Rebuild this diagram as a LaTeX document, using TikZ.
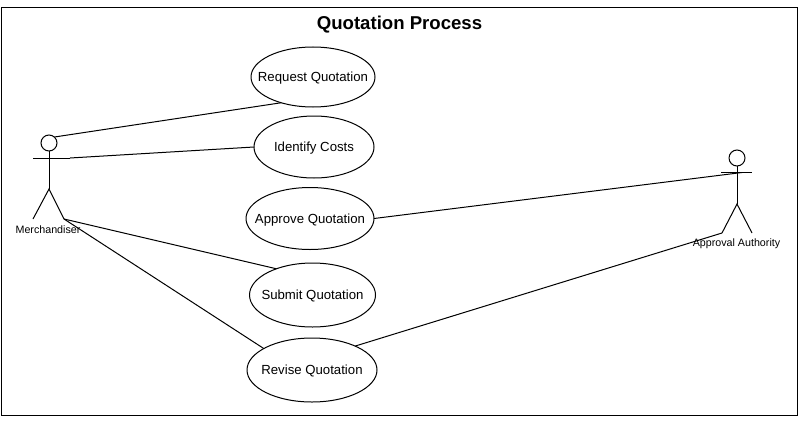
\documentclass[tikz,border=0pt]{standalone}
\usepackage{fontspec}
\setmainfont{Liberation Sans}
\usetikzlibrary{shapes.geometric}
\newcommand{\uctext}[1]{\makebox[0pt]{\raisebox{-4.6pt}[0pt][0pt]{#1}}}
\tikzset{
  usecase/.style={draw=black,ellipse,inner sep=0pt,outer sep=0pt,line width=1pt,fill=white,font=\fontsize{13.2}{15}\selectfont},
  link/.style={draw=black,line width=1pt},
  stick/.style={draw=black,line width=1pt},
  actorlabel/.style={inner sep=0pt,font=\fontsize{10.7}{12}\selectfont},
  headcircle/.style={draw=black,circle,line width=1pt,minimum size=16pt,inner sep=0pt,outer sep=0pt}
}
\begin{document}
\begin{tikzpicture}[x=1pt,y=-1pt]
\useasboundingbox (0,0) rectangle (799,420);
\fill[white] (0,0) rectangle (799,420);
\draw[line width=1pt] (1.5,7.5) rectangle (797,415);
\node[inner sep=0pt,font=\bfseries\fontsize{18.6}{20}\selectfont] (title) at (399.5,24.5) {Quotation Process};

\node[usecase,minimum width=124pt,minimum height=60pt] (req) at (313,77) {\uctext{Request Quotation}};
\node[usecase,minimum width=120pt,minimum height=62pt] (cost) at (314,147) {\uctext{Identify Costs}};
\node[usecase,minimum width=128pt,minimum height=62pt] (appr) at (310,218.5) {\uctext{Approve Quotation}};
\node[usecase,minimum width=126pt,minimum height=64pt] (sub) at (312.5,295) {\uctext{Submit Quotation}};
\node[usecase,minimum width=130pt,minimum height=64pt] (rev) at (312,370) {\uctext{Revise Quotation}};

% Merchandiser
\node[headcircle] (mhead) at (49,143) {};
\coordinate (mhip) at (49,189);
\coordinate (marmL) at (33,158);
\coordinate (marmR) at (70,158);
\coordinate (mlegL) at (33,219);
\coordinate (mlegR) at (64,219);
\coordinate (mneck) at (54.5,137);
\draw[stick] (mhead.south) -- (mhip);
\draw[stick] (marmL) -- (marmR);
\draw[stick] (mlegL) -- (mhip) -- (mlegR);
\node[actorlabel] (mlabel) at (48,229.5) {Merchandiser};

% Approval Authority
\node[headcircle] (ahead) at (737,158) {};
\coordinate (ahip) at (737,204);
\coordinate (aarmL) at (721,172.5);
\coordinate (aarmR) at (752,172.5);
\coordinate (alegL) at (722,233);
\coordinate (alegR) at (752,233);
\coordinate (ahand) at (742,172.5);
\draw[stick] (ahead.south) -- (ahip);
\draw[stick] (aarmL) -- (aarmR);
\draw[stick] (alegL) -- (ahip) -- (alegR);
\node[actorlabel] (alabel) at (736.5,244) {Approval Authority};

% Connectors
\draw[link] (mneck) -- (req.219);
\draw[link] (marmR) -- (cost.180);
\draw[link] (mlegR) -- (sub.144);
\draw[link] (mlegR) -- (rev.156);
\draw[link] (appr.0) -- (ahand);
\draw[link] (rev.29) -- (alegL);
\end{tikzpicture}
\end{document}
